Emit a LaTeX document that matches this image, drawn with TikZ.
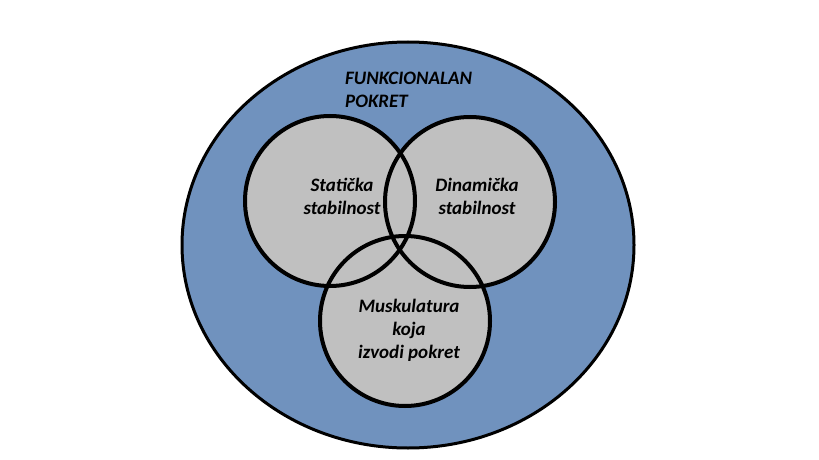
\documentclass[tikz,border=0pt]{standalone}
\usepackage{fontspec}
\setmainfont{Carlito}
\usetikzlibrary{shapes.geometric}
\definecolor{outerblue}{RGB}{112,146,190}
\definecolor{innergray}{RGB}{192,192,192}
\begin{document}
\begin{tikzpicture}[x=1pt,y=-1pt,
    ring/.style={line width=4pt,draw=black},
    area/.style={circle,minimum size=170pt,inner sep=0pt,fill=innergray},
    lbl/.style={font=\fontsize{19}{23}\selectfont\bfseries\itshape,align=center}]
  \useasboundingbox (0,0) rectangle (819,460);
  \node[ellipse,minimum width=452pt,minimum height=406pt,fill=outerblue,ring,line width=3pt] (outer) at (408,245) {};
  \node[area] (stat) at (330,201) {};
  \node[area] (dyn)  at (470,202) {};
  \node[area] (musc) at (405,321) {};
  % outlines on top of all fills
  \node[area,fill=none,ring] at (stat) {};
  \node[area,fill=none,ring] at (dyn) {};
  \node[area,fill=none,ring] at (musc) {};

  \node[lbl,align=left,anchor=west,inner sep=0pt] (t0) at (345,90) {FUNKCIONALAN\\POKRET};
  \node[lbl] (t1) at (342,196) {Statička\\stabilnost};
  \node[lbl] (t2) at (477,196) {Dinamička\\stabilnost};
  \node[lbl] (t3) at (409,330) {Muskulatura\\koja\\izvodi pokret};
\end{tikzpicture}
\end{document}
